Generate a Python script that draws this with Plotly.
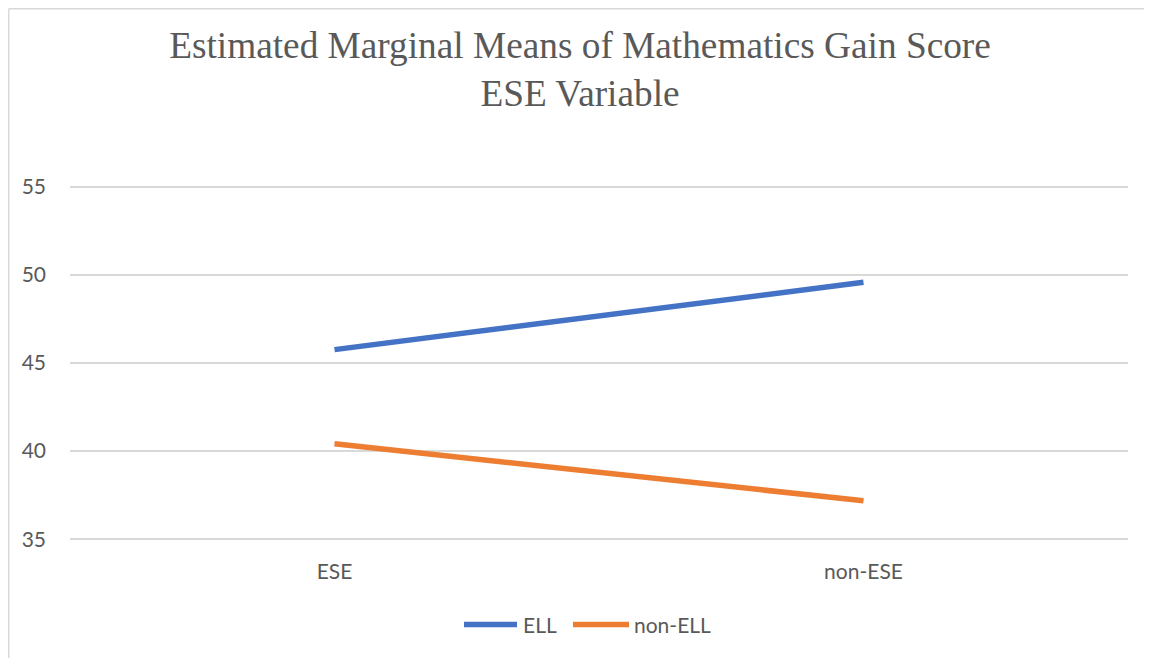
import plotly.graph_objects as go

# Estimated marginal means
categories = ["ESE", "non-ESE"]
series_names = ["ELL", "non-ELL"]
ell = [45.76, 49.58]
non_ell = [40.42, 37.18]
y_ticks = [35, 40, 45, 50, 55]

BLUE = "#4472C4"
ORANGE = "#ED7D31"
TEXT = "#595959"
SANS = "Lato"

fig = go.Figure()

for name, values, color in [(series_names[0], ell, BLUE), (series_names[1], non_ell, ORANGE)]:
    fig.add_trace(go.Scatter(
        x=categories, y=values, mode="lines", name=name,
        line=dict(color=color, width=5.5),
        showlegend=False,
    ))

# Excel-style legend: long line samples under the plot
LEG_Y = -0.2343
legend_items = [
    (series_names[0], BLUE, 0.3724, 0.4225, 0.4263),
    (series_names[1], ORANGE, 0.4754, 0.5284, 0.5312),
]
shapes = []
annotations = []
for name, color, x0, x1, xt in legend_items:
    shapes.append(dict(
        type="line", xref="paper", yref="paper",
        x0=x0, x1=x1, y0=LEG_Y, y1=LEG_Y,
        line=dict(color=color, width=5.5),
    ))
    annotations.append(dict(
        text=name, xref="paper", yref="paper", x=xt, y=LEG_Y,
        xanchor="left", yanchor="middle", showarrow=False,
        font=dict(family=SANS, size=21, color=TEXT),
    ))

# light chart border: only the left and top edges fall inside the picture
BORDER = dict(color="#D9D9D9", width=1.5)
shapes.append(dict(type="line", xref="paper", yref="paper",
                   x0=-0.0579, x1=-0.0579, y0=-1.5, y1=1.4951,
                   line=BORDER, layer="below"))
shapes.append(dict(type="line", xref="paper", yref="paper",
                   x0=-0.0579, x1=2.0, y0=1.4951, y1=1.4951,
                   line=BORDER, layer="below"))

fig.update_layout(
    width=1144,
    height=650,
    margin=dict(l=62, r=24, t=177, b=117),
    paper_bgcolor="white",
    plot_bgcolor="white",
    showlegend=False,
    title=dict(
        text="Estimated Marginal Means of Mathematics Gain Score<br>ESE Variable",
        x=0.5, xanchor="center", xref="container",
        y=0.9238, yanchor="middle", yref="container",
        font=dict(family="Liberation Serif", size=37.3, color=TEXT),
    ),
    xaxis=dict(
        range=[-0.5, 1.5],
        showgrid=False, zeroline=False, showline=False,
        ticks="", tickfont=dict(family=SANS, size=21, color=TEXT),
        ticklabelstandoff=16,
    ),
    yaxis=dict(
        range=[34.9, 55.1], tickvals=y_ticks,
        showgrid=True, gridcolor="#D9D9D9", gridwidth=1.5,
        zeroline=False, showline=False, ticks="",
        tickfont=dict(family=SANS, size=21, color=TEXT),
        ticklabelstandoff=23,
    ),
    shapes=shapes,
    annotations=annotations,
)

fig.write_html("out.html")
